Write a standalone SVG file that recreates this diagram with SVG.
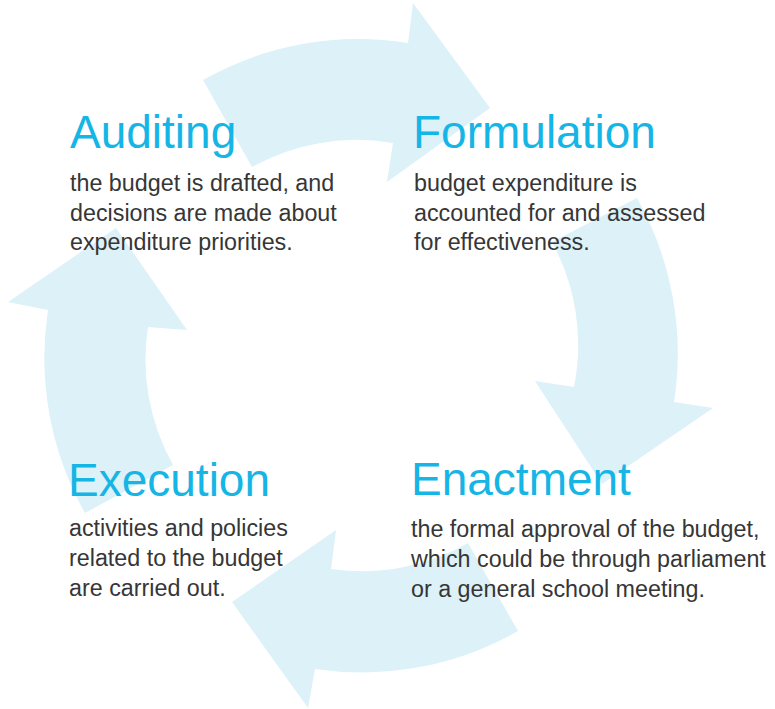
<svg xmlns="http://www.w3.org/2000/svg" width="775" height="709" viewBox="0 0 775 709">
<style>
.arrow{fill:#ddf1f9;stroke:none}
.title{font-family:"Liberation Sans",Arial,sans-serif;font-size:46px;fill:#15b5e6}
.body{font-family:"Liberation Sans",Arial,sans-serif;font-size:23.3px;fill:#363636}
</style>
<rect width="775" height="709" fill="#ffffff"/>
<g id="connectors">
<path class="arrow" d="M203,80 A316,316 0 0 1 408,43 L413,3 L490,108 L387,182 L393,143 A215,215 0 0 0 252,167 Z"/>
<path class="arrow" d="M637,198 A316,316 0 0 1 674,402 L713,408 L602,484 L535,381 L574,387 A215,215 0 0 0 552,242 Z"/>
<path class="arrow" d="M518,631 A316,316 0 0 1 315,669 L308,708 L232,602 L336,530 L331,569 A215,215 0 0 0 468,543 Z"/>
<path class="arrow" d="M85,513 A316,316 0 0 1 48,310 L8,302 L116,228 L187,330 L148,327 A215,215 0 0 0 173,465 Z"/>
</g>
<g id="auditing">
<text class="title" x="70" y="148">Auditing</text>
<text class="body" x="70" y="191">the budget is drafted, and</text>
<text class="body" x="70" y="221">decisions are made about</text>
<text class="body" x="70" y="250">expenditure priorities.</text>
</g>
<g id="formulation">
<text class="title" x="413" y="148">Formulation</text>
<text class="body" x="414" y="191">budget expenditure is</text>
<text class="body" x="414" y="221">accounted for and assessed</text>
<text class="body" x="414" y="250">for effectiveness.</text>
</g>
<g id="execution">
<text class="title" x="68" y="496">Execution</text>
<text class="body" x="69" y="536">activities and policies</text>
<text class="body" x="69" y="566">related to the budget</text>
<text class="body" x="69" y="596">are carried out.</text>
</g>
<g id="enactment">
<text class="title" x="411" y="495">Enactment</text>
<text class="body" x="411" y="537">the formal approval of the budget,</text>
<text class="body" x="411" y="567">which could be through parliament</text>
<text class="body" x="411" y="597">or a general school meeting.</text>
</g>
</svg>
